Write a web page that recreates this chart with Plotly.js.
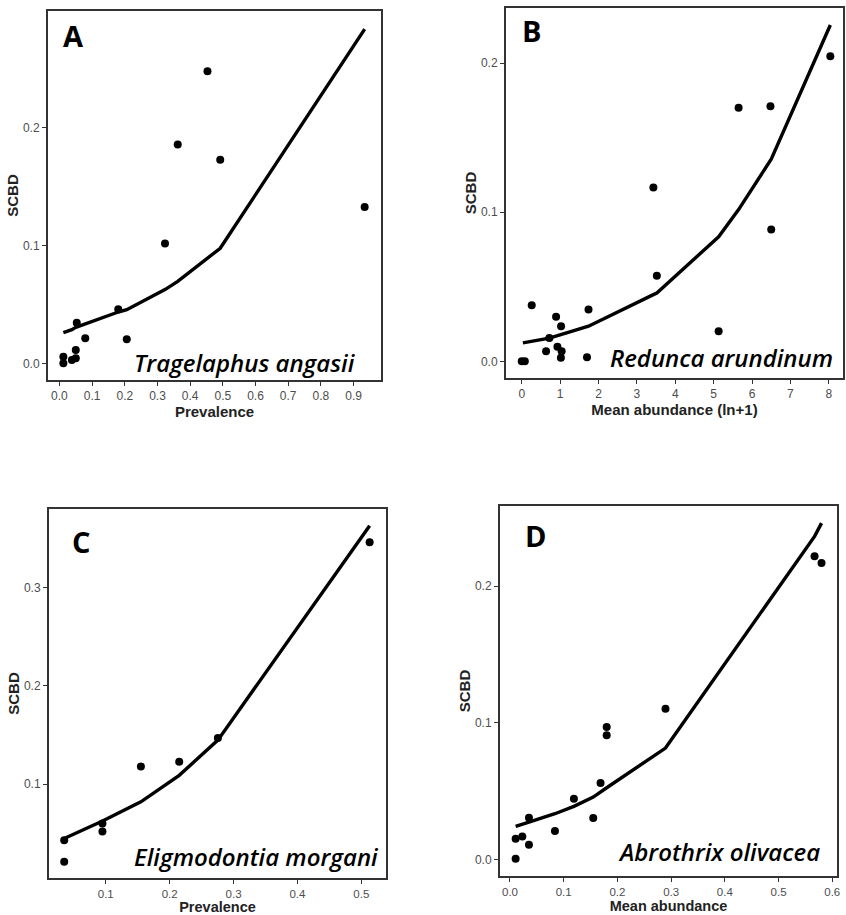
<!DOCTYPE html>
<html>
<head>
<meta charset="utf-8">
<script src="https://cdn.plot.ly/plotly-3.0.1.min.js"></script>
<style>html,body{margin:0;padding:0;background:#fff;}#chart{width:846px;height:915px;}</style>
</head>
<body>
<div id="chart"></div>
<script>
// Panel A: Tragelaphus angasii
const aPrevalence = [0.012, 0.012, 0.038, 0.050, 0.050, 0.053, 0.079, 0.180, 0.206, 0.323, 0.362, 0.453, 0.492, 0.934];
const aSCBD       = [0.0062, 0.0006, 0.0034, 0.0048, 0.0119, 0.035, 0.0218, 0.0464, 0.0209, 0.102, 0.186, 0.248, 0.173, 0.133];
const aFitX = [0.012, 0.038, 0.050, 0.079, 0.180, 0.206, 0.323, 0.362, 0.453, 0.492, 0.934];
const aFitY = [0.0266, 0.029, 0.031, 0.034, 0.044, 0.046, 0.063, 0.070, 0.0895, 0.098, 0.2836];

// Panel B: Redunca arundinum
const bAbundance = [0.0, 0.08, 0.26, 0.634, 0.72, 0.895, 0.93, 1.025, 1.04, 1.02, 1.70, 1.74, 3.43, 3.52, 5.13, 5.65, 6.48, 6.50, 8.04];
const bSCBD      = [0.0, 0.0, 0.0375, 0.0067, 0.0157, 0.0298, 0.0097, 0.0235, 0.0067, 0.0023, 0.0027, 0.0347, 0.1166, 0.0574, 0.0201, 0.170, 0.171, 0.0883, 0.2045];
const bFitX = [0.03, 0.72, 1.04, 1.74, 3.43, 3.52, 5.13, 5.65, 6.50, 8.04];
const bFitY = [0.0123, 0.0155, 0.018, 0.0235, 0.0447, 0.0458, 0.0835, 0.1017, 0.1356, 0.2255];

// Panel C: Eligmodontia morgani
const cPrevalence = [0.035, 0.035, 0.0948, 0.0948, 0.155, 0.215, 0.2755, 0.513];
const cSCBD       = [0.043, 0.021, 0.060, 0.052, 0.118, 0.1228, 0.147, 0.346];
const cFitX = [0.035, 0.095, 0.155, 0.215, 0.2755, 0.513];
const cFitY = [0.0447, 0.0626, 0.082, 0.109, 0.1448, 0.3628];

// Panel D: Abrothrix olivacea
const dAbundance = [0.0105, 0.0105, 0.023, 0.0353, 0.0353, 0.0837, 0.119, 0.155, 0.1686, 0.180, 0.180, 0.2895, 0.567, 0.580];
const dSCBD      = [0.0153, 0.0007, 0.017, 0.0307, 0.011, 0.021, 0.0446, 0.0305, 0.056, 0.097, 0.0909, 0.1104, 0.2217, 0.2168];
const dFitX = [0.0105, 0.023, 0.0353, 0.0837, 0.119, 0.155, 0.1686, 0.180, 0.2895, 0.567, 0.580];
const dFitY = [0.0244, 0.0258, 0.0275, 0.0336, 0.039, 0.0458, 0.0495, 0.0526, 0.0816, 0.2363, 0.246];

const panelLetters = ['A', 'B', 'C', 'D'];
const speciesNames = ['Tragelaphus angasii', 'Redunca arundinum', 'Eligmodontia morgani', 'Abrothrix olivacea'];
const xTitles = ['Prevalence', 'Mean abundance (ln+1)', 'Prevalence', 'Mean abundance'];
const yTitle = 'SCBD';

const W = 846, H = 915;
const px = v => v / W;
const py = v => 1 - v / H;

const pts = (x, y, xa, ya) => ({x, y, xaxis: xa, yaxis: ya, type: 'scatter', mode: 'markers',
  marker: {color: '#000', size: 8}, hoverinfo: 'skip', showlegend: false});
const fit = (x, y, xa, ya) => ({x, y, xaxis: xa, yaxis: ya, type: 'scatter', mode: 'lines',
  line: {color: '#000', width: 3.4}, hoverinfo: 'skip', showlegend: false});

const data = [
  fit(aFitX, aFitY, 'x', 'y'), pts(aPrevalence, aSCBD, 'x', 'y'),
  fit(bFitX, bFitY, 'x2', 'y2'), pts(bAbundance, bSCBD, 'x2', 'y2'),
  fit(cFitX, cFitY, 'x3', 'y3'), pts(cPrevalence, cSCBD, 'x3', 'y3'),
  fit(dFitX, dFitY, 'x4', 'y4'), pts(dAbundance, dSCBD, 'x4', 'y4')
];

const FAM = 'Liberation Sans, Arial, sans-serif';

function axis(domain, range, dtick, fmt, anchor, title, standoff, tsize, ttsize) {
  return {
    domain, range, dtick, tick0: 0, tickformat: fmt, anchor,
    showgrid: false, zeroline: false,
    showline: true, mirror: true, linecolor: '#333', linewidth: 2,
    ticks: 'outside', ticklen: 4, tickwidth: 1, tickcolor: '#333',
    tickfont: {family: FAM, size: tsize, color: '#4d4d4d'}, automargin: false,
    title: {text: title, font: {family: FAM, size: ttsize, color: '#222', weight: 'bold'}, standoff: standoff}
  };
}

const layout = {
  width: W, height: H,
  margin: {l: 0, r: 0, t: 0, b: 0},
  paper_bgcolor: '#fff', plot_bgcolor: '#fff',
  xaxis:  axis([px(48), px(381)], [-0.035, 0.984], 0.1, '.1f', 'y', xTitles[0], 1, 12, 15),
  yaxis:  axis([py(380), py(11)], [-0.0136, 0.299], 0.1, '.1f', 'x', yTitle, 1, 12, 15),
  xaxis2: axis([px(506), px(843)], [-0.41, 8.37], 1, 'd', 'y2', xTitles[1], 1, 12, 15),
  yaxis2: axis([py(378), py(8)], [-0.0112, 0.2369], 0.1, '.1f', 'x2', yTitle, 1, 12, 15),
  xaxis3: axis([px(49), px(386)], [0.0112, 0.5386], 0.1, '.1f', 'y3', xTitles[2], 2, 11.5, 14.5),
  yaxis3: axis([py(878), py(509)], [0.0046, 0.3798], 0.1, '.1f', 'x3', yTitle, 1, 12, 15),
  xaxis4: axis([px(500), px(837)], [-0.0186, 0.6088], 0.1, '.1f', 'y4', xTitles[3], 2, 11.5, 14.5),
  yaxis4: axis([py(876), py(506)], [-0.0119, 0.2585], 0.1, '.1f', 'x4', yTitle, 1, 12, 15),
  annotations: []
};

const letterPos = [[61, 35], [520, 31], [70, 541], [523, 535]];
const speciesPos = [[357, 362], [835, 357], [380, 856], [822, 851]];
panelLetters.forEach((t, i) => {
  layout.annotations.push({
    text: t, xref: 'paper', yref: 'paper', x: px(letterPos[i][0]), y: py(letterPos[i][1]),
    xanchor: 'left', yanchor: 'middle', showarrow: false,
    font: {family: 'Open Sans, sans-serif', size: 29, color: '#000', weight: 'bold'}
  });
  layout.annotations.push({
    text: speciesNames[i], xref: 'paper', yref: 'paper', x: px(speciesPos[i][0]), y: py(speciesPos[i][1]),
    xanchor: 'right', yanchor: 'middle', showarrow: false,
    font: {family: 'Open Sans, sans-serif', size: 24, color: '#000', style: 'italic', weight: 600}
  });
});

Plotly.newPlot('chart', data, layout, {staticPlot: true, displayModeBar: false});
</script>
</body>
</html>
